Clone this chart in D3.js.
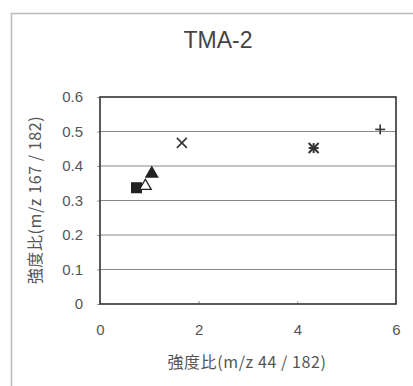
<!DOCTYPE html>
<html>
<head>
<meta charset="utf-8">
<script src="https://cdn.jsdelivr.net/npm/d3@7"></script>
<style>
  html, body { margin: 0; padding: 0; background: #fff; }
  svg { display: block; }
</style>
</head>
<body>
<script>
// Intensity-ratio scatter for sample TMA-2
const title = "TMA-2";
const xLabel = "強度比(m/z 44 / 182)";
const yLabel = "強度比(m/z 167 / 182)";
const xTicks = [0, 2, 4, 6];
const yTicks = [0, 0.1, 0.2, 0.3, 0.4, 0.5, 0.6];

// one point per marker type
const markers = ["squareFilled", "triangleOpen", "triangleFilled", "cross", "star", "plus"];
const xValues = [0.74, 0.92, 1.05, 1.66, 4.33, 5.68];
const yValues = [0.337, 0.342, 0.378, 0.467, 0.452, 0.506];

const W = 413, H = 386;
const margin = { left: 100, right: 17, top: 97, bottom: 82 };

const svg = d3.select("body").append("svg").attr("width", W).attr("height", H);

// outer panel frame
svg.append("rect").attr("x", 11.5).attr("y", 13.5).attr("width", 420).attr("height", 400)
  .attr("fill", "#fff").attr("stroke", "#bbb").attr("stroke-width", 1.5);

const x = d3.scaleLinear().domain([0, 6]).range([margin.left, W - margin.right]);
const y = d3.scaleLinear().domain([0, 0.6]).range([H - margin.bottom, margin.top]);

// grid lines
svg.append("g").selectAll("line").data(yTicks.slice(1, -1)).join("line")
  .attr("x1", x(0)).attr("x2", x(6)).attr("y1", d => y(d)).attr("y2", d => y(d))
  .attr("stroke", "#888").attr("stroke-width", 1.2);

// axes
const yAxis = svg.append("g").attr("transform", `translate(${x(0)},0)`)
  .call(d3.axisLeft(y).tickValues(yTicks).tickSize(3).tickPadding(14)
    .tickFormat(d => d === 0 ? "0" : d3.format(".1f")(d)));
const xAxis = svg.append("g").attr("transform", `translate(0,${y(0)})`)
  .call(d3.axisBottom(x).tickValues(xTicks).tickSize(-3).tickPadding(20).tickFormat(d3.format("d")));
[yAxis, xAxis].forEach(g => {
  g.select(".domain").remove();
  g.selectAll("line").attr("stroke", "#999");
  g.selectAll("text").attr("fill", "#555").style("font-family", "Liberation Sans, Arial, sans-serif").style("font-size", "15px");
});

// plot frame
svg.append("rect").attr("x", x(0)).attr("y", y(0.6)).attr("width", x(6) - x(0)).attr("height", y(0) - y(0.6))
  .attr("fill", "none").attr("stroke", "#333").attr("stroke-width", 1.6);

// markers
const sym = {
  squareFilled: { type: d3.symbolSquare, size: 95, fill: "#222" },
  triangleOpen: { type: d3.symbolTriangle, size: 60, fill: "#fff" },
  triangleFilled: { type: d3.symbolTriangle, size: 60, fill: "#222" }
};
const pts = markers.map((m, i) => ({ m, x: xValues[i], y: yValues[i] }));
const g = svg.append("g");
pts.forEach(p => {
  const cx = x(p.x), cy = y(p.y);
  if (sym[p.m]) {
    const s = sym[p.m];
    g.append("path").attr("d", d3.symbol(s.type, s.size)())
      .attr("transform", `translate(${cx},${cy})`)
      .attr("fill", s.fill).attr("stroke", "#222").attr("stroke-width", 1.3);
  } else {
    const r = 5;
    const segs = [];
    if (p.m === "cross" || p.m === "star") segs.push([-r, -r, r, r], [-r, r, r, -r]);
    if (p.m === "plus" || p.m === "star") segs.push([-r, 0, r, 0], [0, -r, 0, r]);
    segs.forEach(s => g.append("line")
      .attr("x1", cx + s[0]).attr("y1", cy + s[1]).attr("x2", cx + s[2]).attr("y2", cy + s[3])
      .attr("stroke", "#333").attr("stroke-width", p.m === "star" ? 2 : 1.6));
  }
});

// texts
const font = "Noto Sans CJK JP, sans-serif";
svg.append("text").attr("x", 218).attr("y", 48).attr("text-anchor", "middle")
  .attr("fill", "#444").style("font-family", "Liberation Sans, Arial, sans-serif").style("font-size", "23px")
  .text(title);
svg.append("text").attr("x", 247).attr("y", 368).attr("text-anchor", "middle")
  .attr("fill", "#555").style("font-family", font).style("font-size", "16px")
  .style("letter-spacing", "0.6px").text(xLabel);
svg.append("text").attr("transform", "translate(41,200) rotate(-90)").attr("text-anchor", "middle")
  .attr("fill", "#555").style("font-family", font).style("font-size", "16px")
  .style("letter-spacing", "0.6px").text(yLabel);
</script>
</body>
</html>
